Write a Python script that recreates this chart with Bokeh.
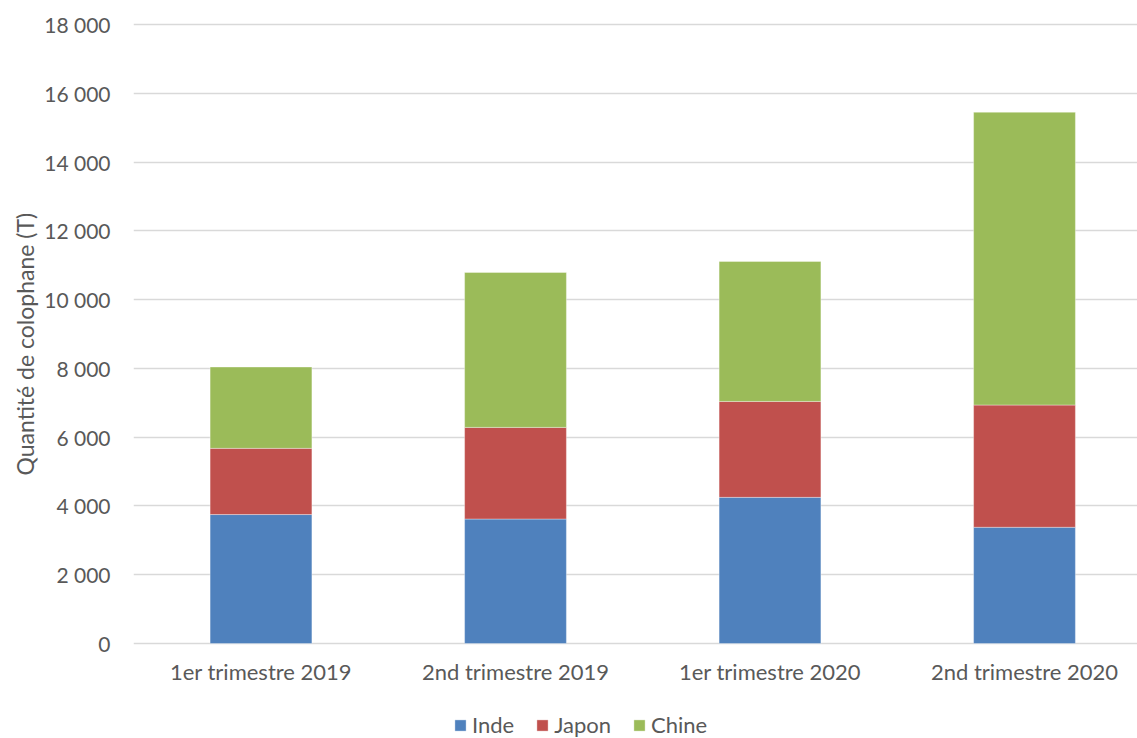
from bokeh.plotting import figure
from bokeh.models import ColumnDataSource, Range1d, FixedTicker, Legend, LegendItem, Title
from bokeh.embed import file_html
from bokeh.resources import INLINE

categories = ["1er trimestre 2019", "2nd trimestre 2019", "1er trimestre 2020", "2nd trimestre 2020"]
series_names = ["Inde", "Japon", "Chine"]
inde = [3750, 3620, 4250, 3380]
japon = [1925, 2665, 2790, 3555]
chine = [2365, 4505, 4070, 8515]
colors = ["#4F81BD", "#C0504D", "#9BBB59"]
y_ticks = [0, 2000, 4000, 6000, 8000, 10000, 12000, 14000, 16000, 18000]
y_tick_labels = ["0", "2 000", "4 000", "6 000", "8 000", "10 000", "12 000", "14 000", "16 000", "18 000"]
y_title = "Quantité de colophane (T)"

FONT = "Lato"
TXT = "#595959"

xs = list(range(len(categories)))
source = ColumnDataSource(dict(x=xs, Inde=inde, Japon=japon, Chine=chine))

p = figure(frame_width=1004, frame_height=716, output_backend="svg", toolbar_location=None,
           x_range=Range1d(-0.501, 3.444), y_range=Range1d(-2763, 18060))
p.min_border_left = 133
p.min_border_right = 0
p.min_border_top = 22
p.min_border_bottom = 0
p.outline_line_color = None

rs = p.vbar_stack(series_names, x="x", width=0.4, source=source, color=colors,
                  line_color="white", line_alpha=0.35, line_width=1)

p.xaxis.fixed_location = 0
p.xaxis.ticker = FixedTicker(ticks=xs)
p.xaxis.major_label_overrides = {i: c for i, c in zip(xs, categories)}
p.xaxis.major_tick_line_color = None
p.xaxis.minor_tick_line_color = None
p.xaxis.axis_line_color = None
p.xaxis.major_label_standoff = 9
p.xaxis.major_label_text_font = FONT
p.xaxis.major_label_text_font_size = "22px"
p.xaxis.major_label_text_color = TXT

p.yaxis.ticker = FixedTicker(ticks=y_ticks)
p.yaxis.major_label_overrides = {t: l for t, l in zip(y_ticks, y_tick_labels)}
p.yaxis.major_tick_line_color = None
p.yaxis.minor_tick_line_color = None
p.yaxis.axis_line_color = None
p.yaxis.major_label_standoff = 17
p.yaxis.major_label_text_font = FONT
p.yaxis.major_label_text_font_size = "21px"
p.yaxis.major_label_text_color = TXT

ytitle = Title(text=y_title, align="left", offset=263, text_font=FONT,
               text_font_size="23px", text_font_style="normal", text_color=TXT, standoff=6)
p.add_layout(ytitle, "left")

p.xgrid.grid_line_color = None
p.ygrid.grid_line_color = "#D9D9D9"
p.ygrid.grid_line_width = 1.5

legend = Legend(items=[LegendItem(label=n, renderers=[r]) for n, r in zip(series_names, rs)],
                orientation="horizontal", location=(320, 0),
                label_text_font=FONT, label_text_font_size="22px", label_text_color=TXT,
                glyph_width=14, glyph_height=14, label_standoff=5, spacing=21,
                padding=0, margin=0, border_line_color=None, background_fill_alpha=0)
p.add_layout(legend, "center")

open("out.html", "w").write(file_html(p, INLINE))
